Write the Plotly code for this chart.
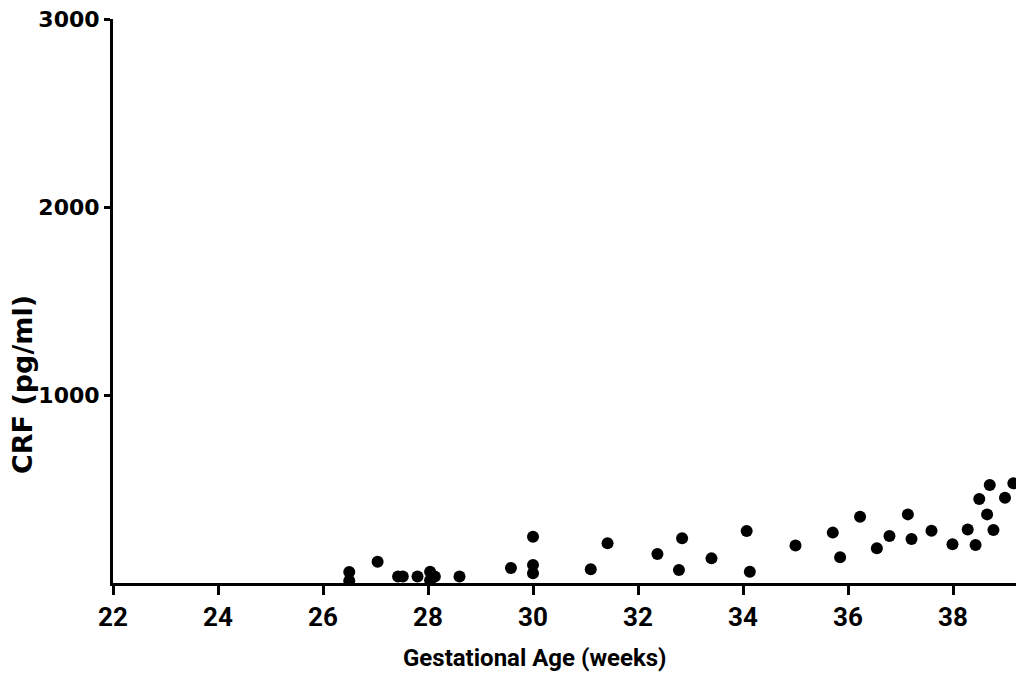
import plotly.graph_objects as go

# Gestational age (weeks) and CRF (pg/ml)
age = [26.5, 26.5, 27.04, 27.43, 27.52, 27.8, 28.04, 28.04, 28.13, 28.6,
       29.58, 30.0, 30.0, 30.0, 31.1, 31.42, 32.37, 32.78, 32.84, 33.4,
       34.07, 34.13, 35.0, 35.71, 35.85, 36.23, 36.55, 36.79, 37.14, 37.21,
       37.59, 37.99, 38.28, 38.43, 38.5, 38.65, 38.7, 38.77, 38.99, 39.15]
crf = [58, 12, 113, 35, 35, 35, 60, 15, 35, 35,
       80, 246, 96, 52, 73, 211, 154, 69, 238, 131,
       277, 60, 200, 268, 137, 353, 185, 250, 365, 234,
       278, 206, 285, 202, 447, 365, 521, 282, 454, 530]

x_ticks = [22, 24, 26, 28, 30, 32, 34, 36, 38]
y_ticks = [1000, 2000, 3000]

NARROW = "Roboto, DejaVu Sans, sans-serif"
WIDE = "DejaVu Sans, sans-serif"

fig = go.Figure()
fig.add_trace(go.Scatter(
    x=age, y=crf, mode="markers",
    marker=dict(color="black", size=12, line=dict(width=0)),
    showlegend=False, hoverinfo="skip"))

fig.update_layout(
    width=1017, height=677,
    margin=dict(l=113, r=1, t=19, b=94),
    paper_bgcolor="white", plot_bgcolor="white",
    font=dict(family=WIDE, size=20, color="black", weight="bold"),
    xaxis=dict(range=[22, 39.2], tickvals=x_ticks, ticktext=[str(v) for v in x_ticks],
               showgrid=False, zeroline=False, showline=True, linecolor="black",
               linewidth=3, ticks="outside", ticklen=9, tickwidth=3, tickcolor="black",
               tickfont=dict(family=NARROW, size=26, color="black", weight="bold")),
    yaxis=dict(range=[0, 3000], tickvals=y_ticks, ticktext=[str(v) for v in y_ticks],
               showgrid=False, zeroline=False, showline=True, linecolor="black",
               linewidth=3, ticks="outside", ticklen=6, tickwidth=3, tickcolor="black",
               tickfont=dict(family=WIDE, size=22, color="black", weight="bold")),
    annotations=[
        dict(text="Gestational Age (weeks)", x=535, y=658, xref="paper", yref="paper",
             showarrow=False, font=dict(family=NARROW, size=24, color="black", weight="bold")),
        dict(text="CRF (pg/ml)", x=22, y=385, xref="paper", yref="paper", textangle=-90,
             showarrow=False, font=dict(family=WIDE, size=27, color="black", weight="bold")),
    ],
)

# convert annotation pixel positions to paper coordinates
pw = 1017 - 113 - 1
ph = 677 - 19 - 94
for a in fig.layout.annotations:
    px, py = a.x, a.y
    a.x = (px - 113) / pw
    a.y = (677 - 94 - py) / ph
    a.xanchor = "center"
    a.yanchor = "middle"

fig.write_html("out.html")
